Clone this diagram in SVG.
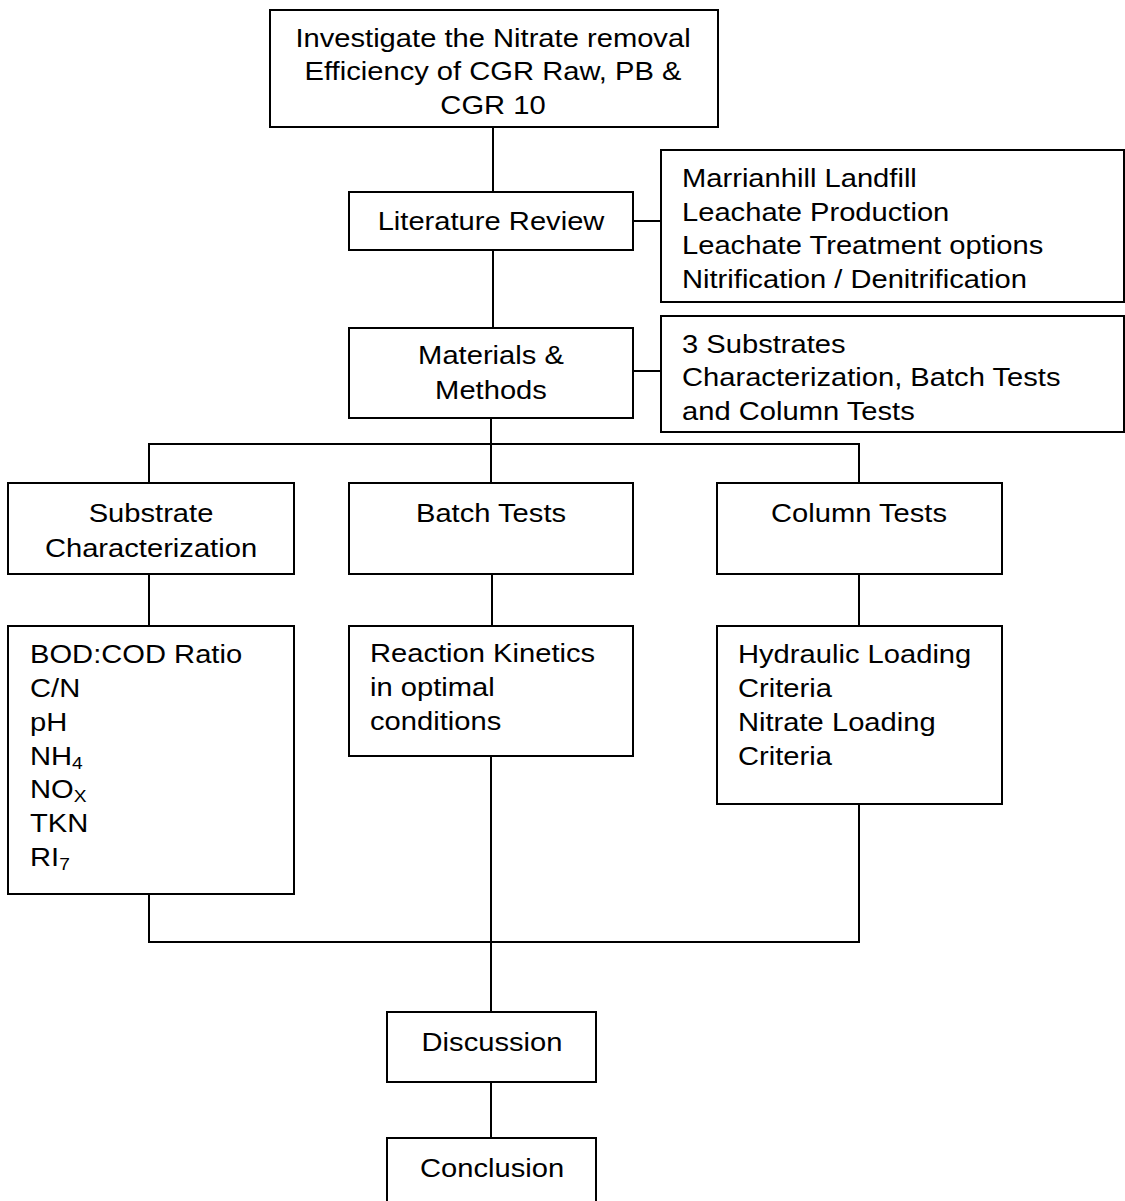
<svg xmlns="http://www.w3.org/2000/svg" width="1125" height="1201" viewBox="0 0 1125 1201">
<style>
.box{fill:#fff;stroke:#000;stroke-width:2}
.ln{fill:none;stroke:#000;stroke-width:2}
text{font-family:"Liberation Sans",Arial,sans-serif;font-size:25.8px;fill:#000}
.c{text-anchor:middle}
.sub{font-size:17px}
</style>
<rect width="1125" height="1201" fill="#fff"/>
<g id="connectors">
<path class="ln" d="M493,127 V192"/>
<path class="ln" d="M633,221 H661"/>
<path class="ln" d="M493,250 V328"/>
<path class="ln" d="M633,371 H661"/>
<path class="ln" d="M491,418 V483"/>
<path class="ln" d="M149,483 V444 H859 V483"/>
<path class="ln" d="M149,574 V626"/>
<path class="ln" d="M492,574 V626"/>
<path class="ln" d="M859,574 V626"/>
<path class="ln" d="M149,894 V942 H859 V804"/>
<path class="ln" d="M491,756 V1012"/>
<path class="ln" d="M491,1082 V1138"/>
</g>
<g id="n-goal">
<rect class="box" x="270" y="10" width="448" height="117"/>
<text class="c" transform="translate(493,47) scale(1.13,1)"><tspan x="0" y="0">Investigate the Nitrate removal</tspan><tspan x="0" y="33.5">Efficiency of CGR Raw, PB &amp;</tspan><tspan x="0" y="67">CGR 10</tspan></text>
</g>
<g id="n-lit">
<rect class="box" x="349" y="192" width="284" height="58"/>
<text class="c" transform="translate(491,230) scale(1.13,1)">Literature Review</text>
</g>
<g id="n-lit-topics">
<rect class="box" x="661" y="150" width="463" height="152"/>
<text transform="translate(682,187) scale(1.13,1)"><tspan x="0" y="0">Marrianhill Landfill</tspan><tspan x="0" y="33.7">Leachate Production</tspan><tspan x="0" y="67.4">Leachate Treatment options</tspan><tspan x="0" y="101">Nitrification / Denitrification</tspan></text>
</g>
<g id="n-mm">
<rect class="box" x="349" y="328" width="284" height="90"/>
<text class="c" transform="translate(491,364) scale(1.13,1)"><tspan x="0" y="0">Materials &amp;</tspan><tspan x="0" y="35">Methods</tspan></text>
</g>
<g id="n-mm-topics">
<rect class="box" x="661" y="316" width="463" height="116"/>
<text transform="translate(682,353) scale(1.13,1)"><tspan x="0" y="0">3 Substrates</tspan><tspan x="0" y="33.5">Characterization, Batch Tests</tspan><tspan x="0" y="67">and Column Tests</tspan></text>
</g>
<g id="n-subchar">
<rect class="box" x="8" y="483" width="286" height="91"/>
<text class="c" transform="translate(151,522) scale(1.13,1)"><tspan x="0" y="0">Substrate</tspan><tspan x="0" y="35">Characterization</tspan></text>
</g>
<g id="n-batch">
<rect class="box" x="349" y="483" width="284" height="91"/>
<text class="c" transform="translate(491,522) scale(1.13,1)">Batch Tests</text>
</g>
<g id="n-column">
<rect class="box" x="717" y="483" width="285" height="91"/>
<text class="c" transform="translate(859,522) scale(1.13,1)">Column Tests</text>
</g>
<g id="n-params">
<rect class="box" x="8" y="626" width="286" height="268"/>
<text transform="translate(30,663) scale(1.13,1)"><tspan x="0" y="0">BOD:COD Ratio</tspan><tspan x="0" y="34">C/N</tspan><tspan x="0" y="68">pH</tspan><tspan x="0" y="102">NH</tspan><tspan class="sub" dy="4">4</tspan><tspan x="0" y="135">NO</tspan><tspan class="sub" dy="4">X</tspan><tspan x="0" y="169">TKN</tspan><tspan x="0" y="203">RI</tspan><tspan class="sub" dy="4">7</tspan></text>
</g>
<g id="n-kinetics">
<rect class="box" x="349" y="626" width="284" height="130"/>
<text transform="translate(370,662) scale(1.13,1)"><tspan x="0" y="0">Reaction Kinetics</tspan><tspan x="0" y="34">in optimal</tspan><tspan x="0" y="68">conditions</tspan></text>
</g>
<g id="n-loading">
<rect class="box" x="717" y="626" width="285" height="178"/>
<text transform="translate(738,663) scale(1.13,1)"><tspan x="0" y="0">Hydraulic Loading</tspan><tspan x="0" y="34">Criteria</tspan><tspan x="0" y="68">Nitrate Loading</tspan><tspan x="0" y="102">Criteria</tspan></text>
</g>
<g id="n-discussion">
<rect class="box" x="387" y="1012" width="209" height="70"/>
<text class="c" transform="translate(492,1051) scale(1.13,1)">Discussion</text>
</g>
<g id="n-conclusion">
<rect class="box" x="387" y="1138" width="209" height="75"/>
<text class="c" transform="translate(492,1177) scale(1.13,1)">Conclusion</text>
</g>
</svg>
